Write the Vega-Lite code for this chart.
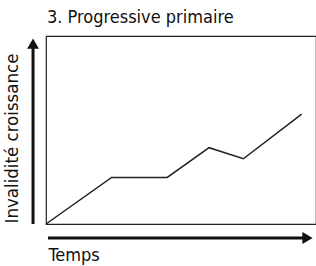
{
  "$schema": "https://vega.github.io/schema/vega-lite/v6.json",
  "width": 270,
  "height": 188,
  "autosize": {"type": "none"},
  "padding": {"left": 46, "top": 36, "right": 0, "bottom": 42},
  "background": "white",
  "config": {
    "view": {"stroke": "#222", "strokeWidth": 1.2},
    "font": "DejaVu Sans Condensed"
  },
  "title": {
    "text": "3. Progressive primaire",
    "anchor": "start",
    "frame": "group",
    "fontSize": 18,
    "fontWeight": "normal",
    "baseline": "alphabetic",
    "offset": -5,
    "dx": 1,
    "color": "#111",
    "font": "DejaVu Sans Condensed"
  },
  "datasets": {
    "curve": [
      {"t": 0, "v": 0},
      {"t": 24.3, "v": 24.8},
      {"t": 44.9, "v": 24.8},
      {"t": 60.4, "v": 40.6},
      {"t": 73.1, "v": 34.7},
      {"t": 94.7, "v": 58.4}
    ],
    "arrows": [
      {"axis": "Temps", "t": 0.74, "t2": 95.2, "v": -7.45, "v2": -7.45},
      {"axis": "Invalidité", "t": -4.8, "t2": -4.8, "v": 0, "v2": 93.6}
    ],
    "heads": [
      {"axis": "Temps", "t": 96.85, "v": -7.45, "shape": "triangle-right"},
      {"axis": "Invalidité", "t": -4.8, "v": 96.0, "shape": "triangle-up"}
    ]
  },
  "layer": [
    {
      "data": {"name": "curve"},
      "mark": {"type": "line", "color": "#222", "strokeWidth": 1.5},
      "encoding": {
        "x": {
          "field": "t", "type": "quantitative",
          "scale": {"domain": [0, 100], "nice": false, "zero": false},
          "axis": {
            "title": "Temps", "domain": false, "ticks": false, "labels": false, "grid": false,
            "titleFontSize": 18, "titleFontWeight": "normal", "titleColor": "#111",
            "titleAlign": "left", "titleBaseline": "alphabetic", "titleX": 2, "titleY": 36,
            "titleFont": "DejaVu Sans Condensed"
          }
        },
        "y": {
          "field": "v", "type": "quantitative",
          "scale": {"domain": [0, 100], "nice": false, "zero": false},
          "axis": {
            "title": "Invalidité croissance", "domain": false, "ticks": false, "labels": false, "grid": false,
            "titleFontSize": 18.5, "titleFontWeight": "normal", "titleColor": "#111",
            "titleAngle": 270, "titleAlign": "left", "titleBaseline": "alphabetic",
            "titleX": -29, "titleY": 187,
            "titleFont": "DejaVu Sans Condensed"
          }
        }
      }
    },
    {
      "data": {"name": "arrows"},
      "mark": {"type": "rule", "color": "#111", "strokeWidth": 3, "clip": false},
      "encoding": {
        "x": {"field": "t", "type": "quantitative"},
        "x2": {"field": "t2"},
        "y": {"field": "v", "type": "quantitative"},
        "y2": {"field": "v2"}
      }
    },
    {
      "data": {"name": "heads"},
      "mark": {"type": "point", "filled": true, "color": "#111", "opacity": 1, "size": 140, "clip": false},
      "encoding": {
        "x": {"field": "t", "type": "quantitative"},
        "y": {"field": "v", "type": "quantitative"},
        "shape": {"field": "shape", "type": "nominal", "scale": null}
      }
    }
  ]
}
